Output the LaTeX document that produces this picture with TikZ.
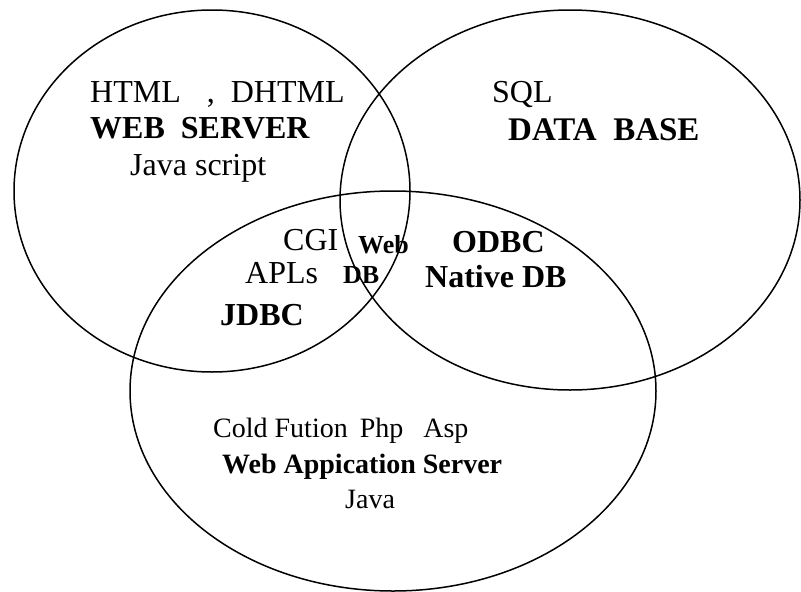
\documentclass[tikz,border=0pt]{standalone}
\usepackage{fontspec}
\setmainfont{Liberation Serif}
\begin{document}
\begin{tikzpicture}
[
	x=1pt,y=-1pt,
	ring/.style={line width=1.5pt},
	lbl/.style={anchor=base west,inner sep=0pt,font=\fontsize{32}{34}\selectfont},
	blbl/.style={lbl,font=\fontsize{32}{34}\selectfont\bfseries},
	slbl/.style={lbl,font=\fontsize{26}{28}\selectfont\bfseries},
	lowlbl/.style={lbl,font=\fontsize{28}{30}\selectfont},
	lowblbl/.style={lbl,font=\fontsize{28}{30}\selectfont\bfseries}
]
	\useasboundingbox (0,0) rectangle (801,592);

	% the three sets
	\draw[ring] (212,191) ellipse [x radius=198,y radius=181];
	\draw[ring] (570,200) ellipse [x radius=230,y radius=190];
	\draw[ring] (393,391) ellipse [x radius=263,y radius=200];

	% web server
	\node[lbl] at (90,102) (html) {HTML\hspace{26pt},\hspace{16pt}DHTML};
	\node[blbl] at (90,138) (websrv) {WEB\ \ SERVER};
	\node[lbl] at (130,175) (jscript) {Java script};

	% data base
	\node[lbl] at (492,102) (sql) {SQL};
	\node[blbl,font=\fontsize{33}{35}\selectfont\bfseries] at (508,140) (dbase) {DATA\ \ BASE};

	% overlaps
	\node[lbl] at (283,250) (cgi) {CGI};
	\node[lbl] at (245,283) (apls) {APLs};
	\node[blbl] at (220,325) (jdbc) {JDBC};
	\node[slbl] at (358,253) (web) {Web};
	\node[slbl] at (343,283) (db) {DB};
	\node[blbl] at (452,252) (odbc) {ODBC};
	\node[blbl] at (425,287) (native) {Native DB};

	% web application server
	\node[lowlbl] at (213,437) (cold) {Cold Fution\hspace{12pt}Php\hspace{20pt}Asp};
	\node[lowblbl] at (222,473) (appsrv) {Web Appication Server};
	\node[lowlbl] at (345,508) (java) {Java};

\end{tikzpicture}
\end{document}
